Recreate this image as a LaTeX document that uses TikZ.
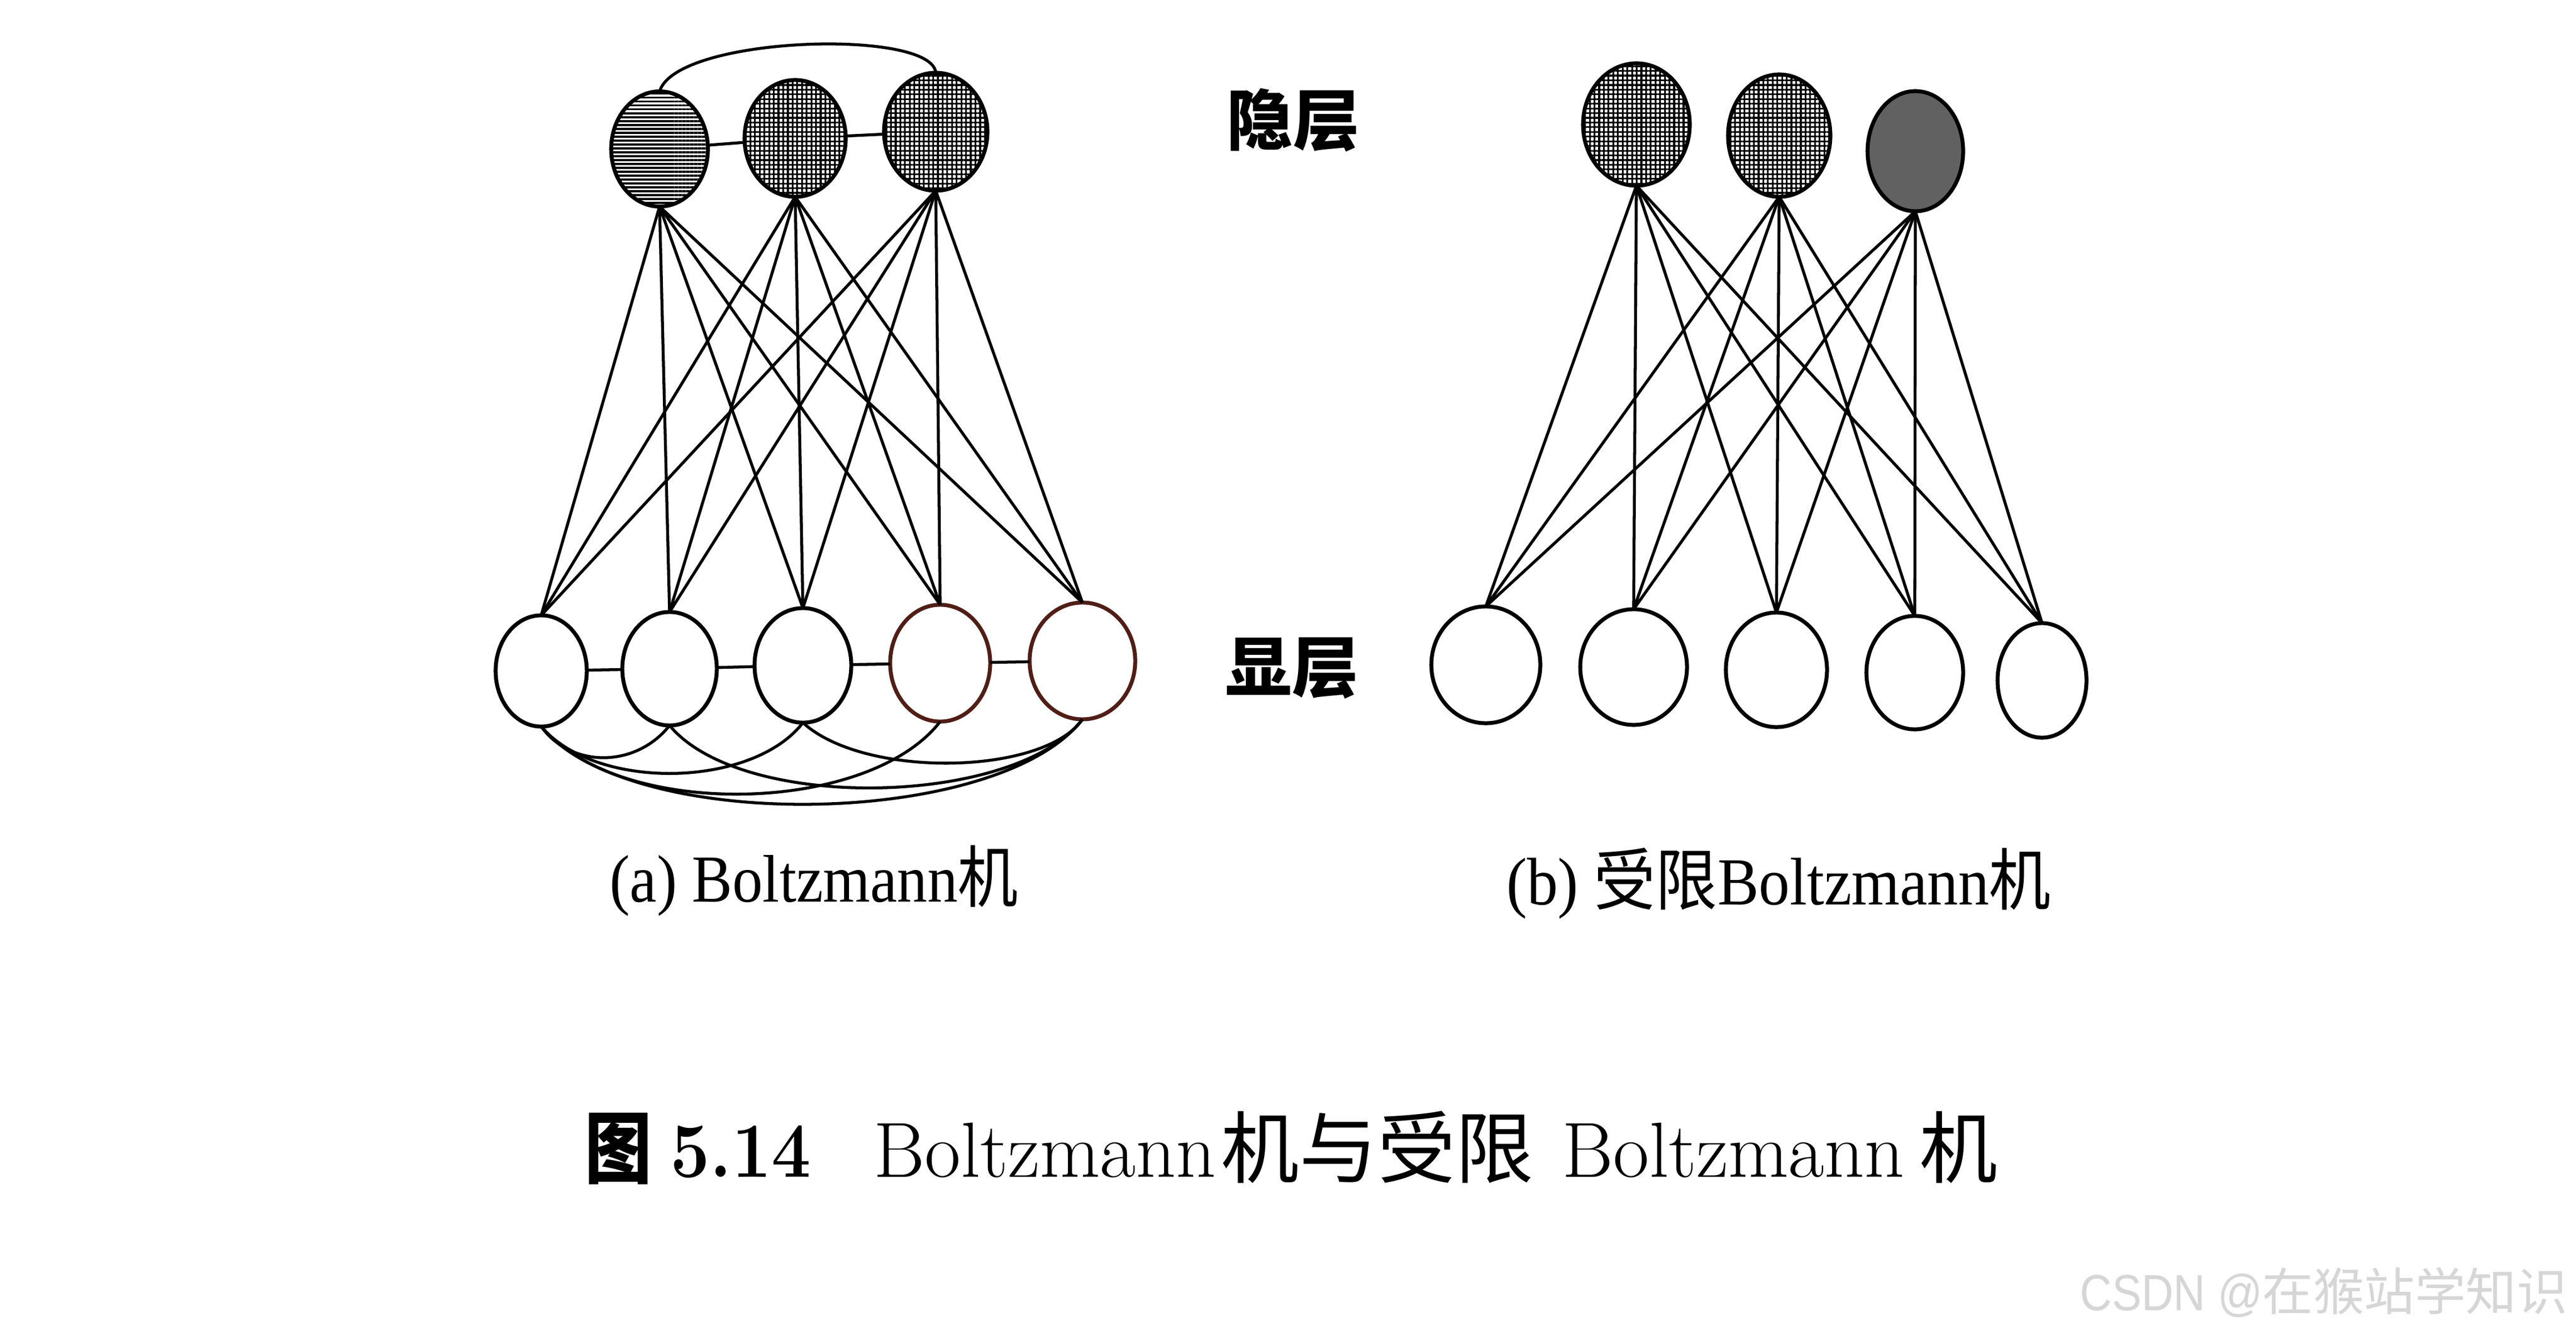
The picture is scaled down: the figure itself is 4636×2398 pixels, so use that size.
\documentclass[tikz,border=0pt]{standalone}
\usepackage{fontspec}
\usepackage{graphicx}
\usetikzlibrary{shapes.geometric,patterns.meta}
\newfontfamily\cjk{Noto Sans CJK SC}
\newfontfamily\tms{Liberation Serif}
\newfontfamily\arl{Liberation Sans}
\definecolor{wm}{RGB}{214,214,214}
\definecolor{brn}{RGB}{80,30,22}
\begin{document}
\begin{tikzpicture}[x=0.01cm,y=-0.01cm,
  unit/.style={ellipse, draw, line width=2pt, inner sep=0pt, outer sep=0pt},
  hidA/.style={unit, pattern={Lines[angle=0,distance=2pt,line width=1.1pt]}},
  hidB/.style={unit, pattern={Hatch[angle=0,distance=2.4pt,line width=0.9pt]}},
  hidC/.style={unit, fill=black!62},
  vis/.style={unit},
  link/.style={line width=1.5pt},
  lab/.style={font=\cjk\bfseries\fontsize{34pt}{40pt}\selectfont, inner sep=0pt},
  sub/.style={font=\tms\fontsize{34.4pt}{40pt}\selectfont, inner sep=0pt, anchor=base},
  figcap/.style={font=\fontsize{40pt}{46pt}\selectfont, inner sep=0pt, anchor=base west}]
\path[fill=white] (0,0) rectangle (4636,2398);

% ---------- (a) Boltzmann machine ----------
\node[hidA, minimum width=1.74cm, minimum height=2.07cm] (aH1) at (1187,268) {};
\node[hidB, minimum width=1.82cm, minimum height=2.10cm] (aH2) at (1431,249) {};
\node[hidB, minimum width=1.86cm, minimum height=2.12cm] (aH3) at (1684,237) {};
\node[vis, minimum width=1.64cm, minimum height=2.00cm] (aV1) at (974,1207) {};
\node[vis, minimum width=1.70cm, minimum height=2.04cm] (aV2) at (1205,1203) {};
\node[vis, minimum width=1.74cm, minimum height=2.06cm] (aV3) at (1445,1197) {};
\node[vis, draw=brn, minimum width=1.80cm, minimum height=2.10cm] (aV4) at (1692,1193) {};
\node[vis, draw=brn, minimum width=1.90cm, minimum height=2.10cm] (aV5) at (1948,1189) {};

\foreach \i in {1,2,3}{\foreach \j in {1,...,5}{\draw[link] (aH\i.south) -- (aV\j.north);}}
\draw[link] (aH1) -- (aH2);
\draw[link] (aH2) -- (aH3);
\draw[link] (aH1.north) .. controls +(30,-100) and +(-6,-80) .. (aH3.north);
\draw[link] (aV1) -- (aV2);
\draw[link] (aV2) -- (aV3);
\draw[link] (aV3) -- (aV4);
\draw[link] (aV4) -- (aV5);
\draw[link] (aV1.south) .. controls +(55,76) and +(-60,76) .. (aV2.south);
\draw[link] (aV1.south) .. controls +(100,117) and +(-90,117) .. (aV3.south);
\draw[link] (aV1.south) .. controls +(140,168) and +(-130,168) .. (aV4.south);
\draw[link] (aV1.south) .. controls +(160,195) and +(-150,195) .. (aV5.south);
\draw[link] (aV2.south) .. controls +(130,157) and +(-120,157) .. (aV5.south);
\draw[link] (aV3.south) .. controls +(110,101) and +(-70,101) .. (aV5.south);

\node[sub] (capa) at (1465,1622) {\scalebox{0.9}[1]{(a) Boltzmann{\cjk 机}}};

% ---------- (b) restricted Boltzmann machine ----------
\node[hidB, minimum width=1.92cm, minimum height=2.20cm] (bH1) at (2945,224) {};
\node[hidB, minimum width=1.84cm, minimum height=2.20cm] (bH2) at (3202,244) {};
\node[hidC, minimum width=1.72cm, minimum height=2.16cm] (bH3) at (3447,272) {};
\node[vis, minimum width=1.96cm, minimum height=2.10cm] (bV1) at (2674,1196) {};
\node[vis, minimum width=1.92cm, minimum height=2.08cm] (bV2) at (2940,1200) {};
\node[vis, minimum width=1.82cm, minimum height=2.06cm] (bV3) at (3197,1205) {};
\node[vis, minimum width=1.74cm, minimum height=2.04cm] (bV4) at (3446,1210) {};
\node[vis, minimum width=1.60cm, minimum height=2.06cm] (bV5) at (3675,1224) {};

\foreach \i in {1,2,3}{\foreach \j in {1,...,5}{\draw[link] (bH\i.south) -- (bV\j.north);}}

\node[sub] (capb) at (3201,1627) {\scalebox{0.92}[1]{(b) {\cjk 受限}Boltzmann{\cjk 机}}};

% ---------- layer labels ----------
\node[lab] (hidlab) at (2327,216) {隐层};
\node[lab] (vislab) at (2325,1202) {显层};

% ---------- figure caption ----------
\node[figcap] (fig1) at (1052,2117) {\scalebox{0.86}[1]{\cjk\bfseries 图}};
\node[figcap] (fig2) at (1206,2117) {\scalebox{0.9}[1]{\bfseries 5.14}};
\node[figcap] (fig3) at (1572,2117) {Boltzmann};
\node[figcap] (fig4) at (2197,2117) {\cjk 机与受限};
\node[figcap] (fig5) at (2811,2117) {Boltzmann};
\node[figcap] (fig6) at (3454,2117) {\cjk 机};

% ---------- watermark ----------
\node[anchor=base west, inner sep=0pt, text=wm, font=\arl\fontsize{26pt}{30pt}\selectfont] (wmk) at (3743,2357)
  {\scalebox{0.87}[1]{CSDN @}{\cjk 在猴站学知识}};
\end{tikzpicture}
\end{document}
